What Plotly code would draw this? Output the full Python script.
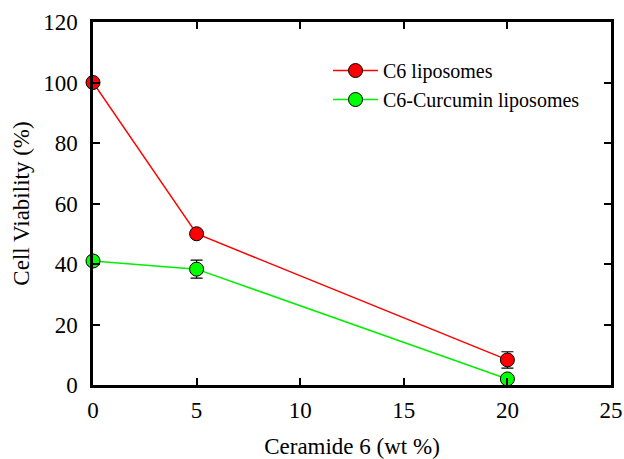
import plotly.graph_objects as go

x_vals = [0, 5, 20]
c6_vals = [100, 50, 8.3]
c6_err = [0, 0, 2.7]
cur_vals = [41, 38.3, 2]
cur_err = [0, 3, 0]
x_ticks = [0, 5, 10, 15, 20, 25]
y_ticks = [0, 20, 40, 60, 80, 100, 120]

font_fam = "Liberation Serif, Times New Roman, serif"

fig = go.Figure()
fig.add_trace(go.Scatter(
    x=x_vals, y=c6_vals, name="C6 liposomes", mode="lines+markers",
    line=dict(color="#ff0000", width=1.5),
    marker=dict(color="#ff0000", size=14, line=dict(color="black", width=1)),
    error_y=dict(type="data", array=c6_err, color="black", thickness=1.2, width=6),
    cliponaxis=False,
))
fig.add_trace(go.Scatter(
    x=x_vals, y=cur_vals, name="C6-Curcumin liposomes", mode="lines+markers",
    line=dict(color="#00ee00", width=1.5),
    marker=dict(color="#00ff00", size=14, line=dict(color="black", width=1)),
    error_y=dict(type="data", array=cur_err, color="black", thickness=1.2, width=6),
    cliponaxis=False,
))

axis_common = dict(
    showline=True, linecolor="black", linewidth=2.5, mirror="ticks",
    ticks="inside", ticklen=7, tickwidth=2, tickcolor="black",
    showgrid=False, zeroline=False, automargin=False,
    tickfont=dict(family=font_fam, size=23, color="black"),
)
fig.update_xaxes(range=[0, 25], tickvals=x_ticks, ticktext=[str(v) for v in x_ticks],
                 ticklabelstandoff=3,
                 title=dict(text="Ceramide 6 (wt %)", font=dict(family=font_fam, size=23, color="black"), standoff=18),
                 **axis_common)
fig.update_yaxes(range=[0, 120], tickvals=y_ticks, ticktext=[str(v) for v in y_ticks],
                 ticklabelstandoff=8,
                 title=dict(text="Cell Viability (%)", font=dict(family=font_fam, size=23, color="black"), standoff=8),
                 **axis_common)

fig.update_layout(
    width=624, height=459,
    margin=dict(l=93, r=13, t=22, b=74),
    paper_bgcolor="white", plot_bgcolor="white",
    showlegend=True,
    legend=dict(x=0.4537, y=0.92, xanchor="left", yanchor="top",
                bgcolor="rgba(0,0,0,0)", font=dict(family=font_fam, size=20, color="black"),
                itemwidth=45, tracegroupgap=0),
)
fig.write_html("out.html", config={"displayModeBar": False},
               post_script="document.body.style.margin='0';")
